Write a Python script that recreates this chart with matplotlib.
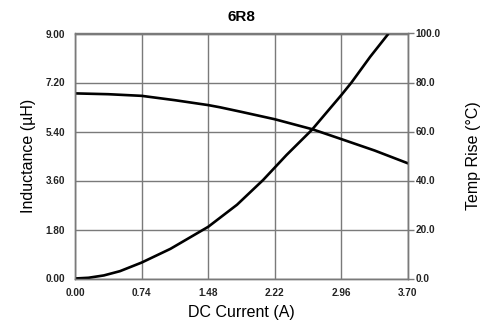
import numpy as np
import matplotlib.pyplot as plt

plt.rcParams['font.family'] = ['Liberation Sans', 'DejaVu Sans']

# DC current (A) and the two curves
current = [0.00, 0.37, 0.74, 1.11, 1.48, 1.61, 1.85, 2.22, 2.64, 2.96, 3.33, 3.70]
inductance = [6.80, 6.77, 6.71, 6.55, 6.37, 6.29, 6.12, 5.85, 5.48, 5.12, 4.70, 4.23]

temp_current = [0.00, 0.15, 0.32, 0.50, 0.74, 1.06, 1.48, 1.80, 2.09, 2.35,
                2.63, 2.96, 3.07, 3.28, 3.48]
temp_rise = [0.0, 0.3, 1.25, 3.0, 6.5, 12.1, 21.1, 30.1, 40.2, 50.4,
             60.6, 74.9, 79.9, 90.5, 99.8]

x_ticks = [0.00, 0.74, 1.48, 2.22, 2.96, 3.70]
l_ticks = [0.00, 1.80, 3.60, 5.40, 7.20, 9.00]
t_ticks = [0.0, 20.0, 40.0, 60.0, 80.0, 100.0]

grid_c = '#7a7a7a'
tick_c = '#222222'

fig = plt.figure(figsize=(4.97, 3.23), dpi=100)
ax = fig.add_axes([75 / 497, 1 - 278.5 / 323, 333 / 497, 245 / 323])
ax2 = ax.twinx()

ax.plot(current, inductance, color='black', lw=1.9, solid_capstyle='round',
        solid_joinstyle='round')
ax2.plot(temp_current, temp_rise, color='black', lw=1.9, solid_capstyle='round',
         solid_joinstyle='round')

ax.set_xlim(0, 3.70)
ax.set_ylim(0, 9.00)
ax2.set_ylim(0, 100.0)

ax.set_xticks(x_ticks)
ax.set_xticklabels(['%.2f' % v for v in x_ticks])
ax.set_yticks(l_ticks)
ax.set_yticklabels(['%.2f' % v for v in l_ticks])
ax2.set_yticks(t_ticks)
ax2.set_yticklabels(['%.1f' % v for v in t_ticks])

ax.grid(True, color=grid_c, lw=1.0)
ax.set_axisbelow(True)

for a in (ax, ax2):
    for s in a.spines.values():
        s.set_color(grid_c)
        s.set_linewidth(1.0)

ax.tick_params(axis='both', length=0, pad=7, labelsize=7.2, labelcolor=tick_c)
for lab in ax.get_xticklabels() + ax.get_yticklabels():
    lab.set_fontweight('bold')
ax2.tick_params(axis='y', length=4.5, width=1.0, color=grid_c, pad=1,
                labelsize=7.2, labelcolor=tick_c)
for lab in ax2.get_yticklabels():
    lab.set_fontweight('bold')

ax.set_xlabel('DC Current (A)', fontsize=11.5, labelpad=5)
ax.set_ylabel('Inductance (µH)', fontsize=11.5, labelpad=7)
ax2.set_ylabel('Temp Rise (°C)', fontsize=11.5, labelpad=18)
ax.set_title('6R8', fontsize=11, fontweight='bold', pad=9)

fig.savefig('out.png', dpi=100)
